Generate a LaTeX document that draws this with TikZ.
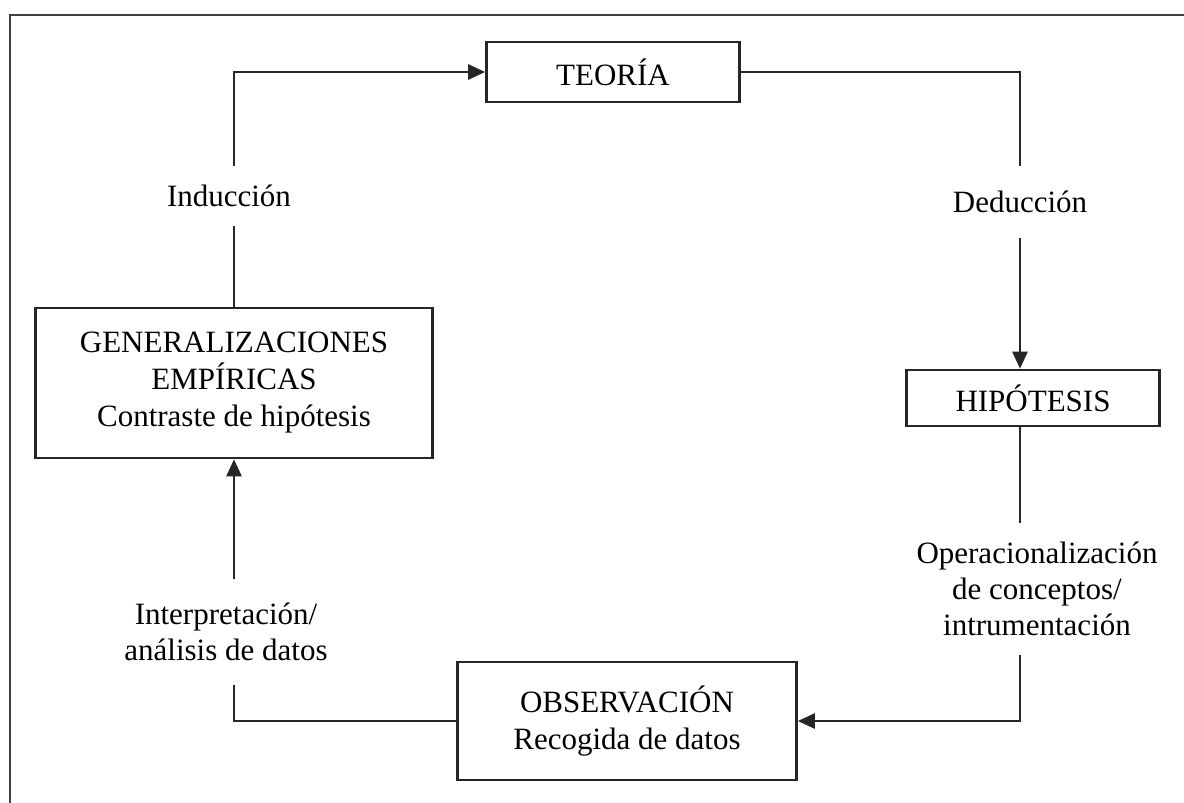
\documentclass[tikz,border=0pt]{standalone}
\usepackage{fontspec}
\setmainfont{Liberation Serif}
\usepackage{tikz}
\usetikzlibrary{arrows.meta}

\begin{document}
\begin{tikzpicture}[x=1pt, y=-1pt]
				\useasboundingbox (0,0) rectangle (1184,803);
				\clip (0,0) rectangle (1184,803);
				\draw [line width=2.2pt, draw=black!75] (1200,15) -- (10,15) -- (10,820);
				\begin{scope}[every node/.style = {rectangle, draw=black!85, line width=2.6pt, align=center,
						font = \fontsize{31}{37}\selectfont}]
					\node [minimum width=253pt, minimum height=60pt] (teo) at (613,72) {TEORÍA};
					\node [minimum width=253pt, minimum height=56pt] (hip) at (1033,398) {HIPÓTESIS};
					\node [minimum width=339pt, minimum height=118pt] (obs) at (627,721) {OBSERVACIÓN\\Recogida de datos};
					\node [minimum width=397pt, minimum height=150pt] (gen) at (234,383) {GENERALIZACIONES\\EMPÍRICAS\\Contraste de hipótesis};
				\end{scope}
				\begin{scope}[every node/.style = {align=center, inner xsep=4pt, inner ysep=19pt,
						font = \fontsize{31}{36}\selectfont}]
					\node (ind) at (229,196) {Inducción};
					\node [inner ysep=25pt] (ded) at (1020,202) {Deducción};
					\node (ope) at (1037,589) {Operacionalización\\de conceptos/\\intrumentación};
					\node [inner ysep=24pt] (int) at (226,632) {Interpretación/\\análisis de datos};
				\end{scope}
				\begin{scope}[>={Triangle[length=17pt, width=15pt]},
						every path/.style={draw=black!85, line width=2.5pt}]
					\draw [->] (ind.north -| gen.north) |- (teo.west);
					\draw [-] (gen.north) -- (ind.south -| gen.north);
					\draw [-] (teo.east) -| (ded.north);
					\draw [->] (ded.south) -- (ded.south |- hip.north);
					\draw [-] (ded.south |- hip.south) -- (ded.south |- ope.north);
					\draw [->] (ded.south |- ope.south) |- (obs.east);
					\draw [-] (obs.west) -| (int.south -| gen.south);
					\draw [->] (int.north -| gen.south) -- (gen.south);
				\end{scope}
			\end{tikzpicture}
\end{document}
